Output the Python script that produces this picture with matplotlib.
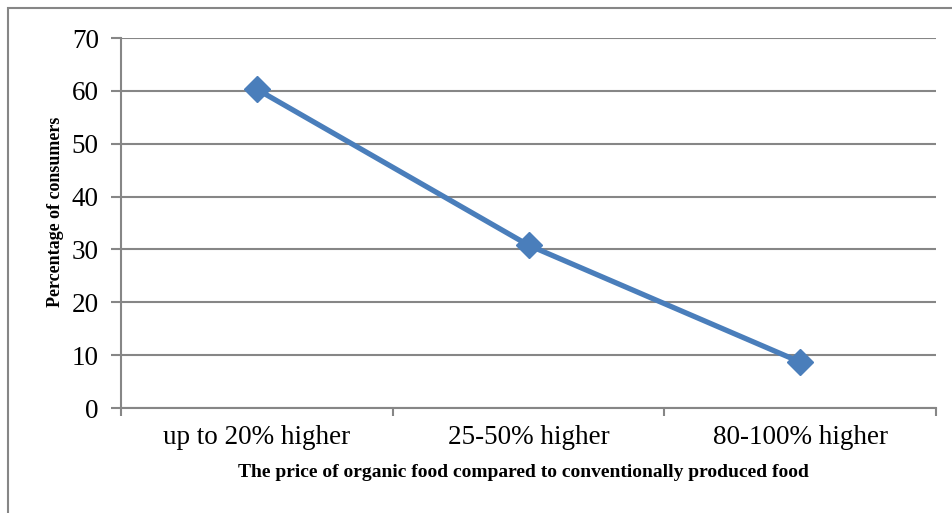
import numpy as np
import matplotlib
matplotlib.use("Agg")
import matplotlib.pyplot as plt
from matplotlib.patches import Rectangle

categories = ["up to 20% higher", "25-50% higher", "80-100% higher"]
values = [60.3, 30.8, 8.7]
yticks = [0, 10, 20, 30, 40, 50, 60, 70]

W, H = 952, 513
fig = plt.figure(figsize=(W / 100, H / 100), dpi=100)
plt.rcParams["font.family"] = ["Liberation Serif", "DejaVu Serif"]

# plot area in pixels: left 121, right 936, top 38, bottom 408
ax = fig.add_axes([121 / W, 1 - 408 / H, (936 - 121) / W, (408 - 38) / H])

grey = "#868686"
x = np.arange(len(categories))
ax.plot(x, values, color="#4a7ebb", lw=3.8, marker="D", ms=13.5,
        markerfacecolor="#4a7ebb", markeredgecolor="#4a7ebb", zorder=3)

ax.set_xlim(-0.5, len(categories) - 0.5)
ax.set_ylim(0, 70)
ax.set_yticks(yticks)
ax.set_yticklabels([str(v) for v in yticks], fontsize=19.5)
ax.yaxis.grid(True, color=grey, lw=1.5)
ax.set_axisbelow(True)

ax.set_xticks(x)
ax.set_xticklabels(categories, fontsize=19.5)
ax.tick_params(axis="x", length=0, pad=12)
ax.set_xticks(np.arange(-0.5, len(categories)), minor=True)
ax.tick_params(axis="x", which="minor", length=6, color=grey, width=1.5)
ax.tick_params(axis="y", length=7, color=grey, width=1.5, pad=9)

for side in ["top", "right"]:
    ax.spines[side].set_visible(False)
for side in ["left", "bottom"]:
    ax.spines[side].set_color(grey)
    ax.spines[side].set_linewidth(1.5)

ax.set_xlabel("The price of organic food compared to conventionally produced food",
              fontsize=14, fontweight="bold", va="center", ha="center")
ax.xaxis.set_label_coords(0.494, -0.173)
ax.set_ylabel("Percentage of consumers", fontsize=13, fontweight="bold",
              va="center", ha="center")
ax.yaxis.set_label_coords(-0.080, 0.53)

# outer chart border
fig.patches.append(Rectangle((8 / W, -0.1), 1.2, 1 - 8 / H + 0.1,
                             transform=fig.transFigure, fill=False,
                             edgecolor=grey, lw=1.5))

fig.savefig("out.png", dpi=100)
